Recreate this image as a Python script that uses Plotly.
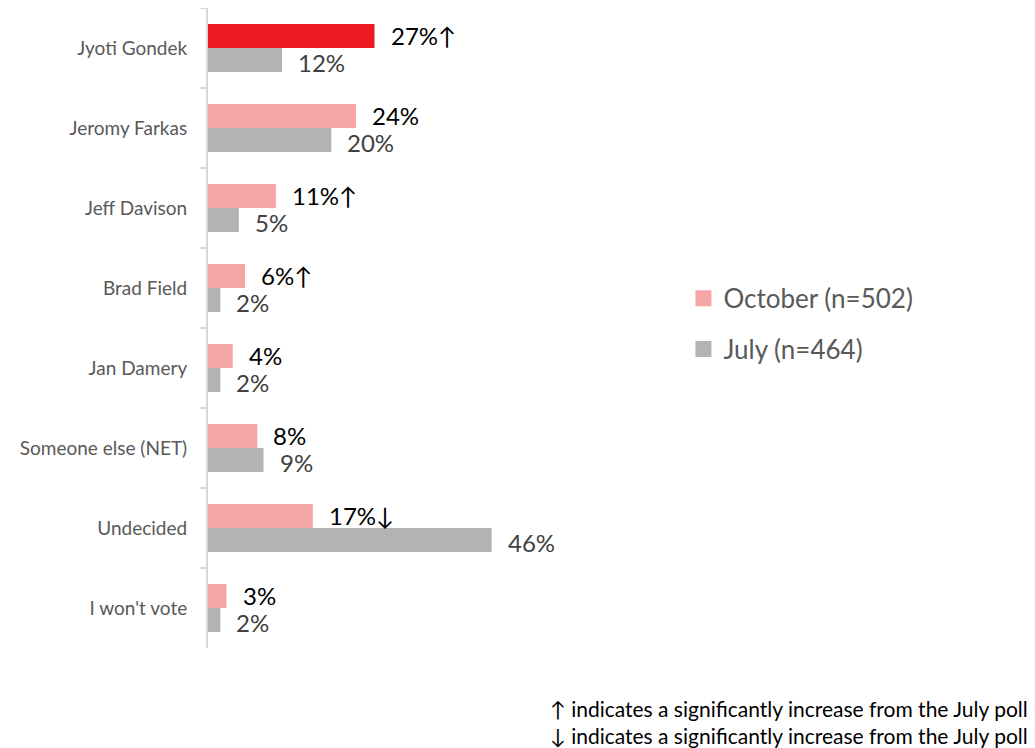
import plotly.graph_objects as go

categories = ["Jyoti Gondek", "Jeromy Farkas", "Jeff Davison", "Brad Field",
              "Jan Damery", "Someone else (NET)", "Undecided", "I won't vote"]
october = [27, 24, 11, 6, 4, 8, 17, 3]
july = [12, 20, 5, 2, 2, 9, 46, 2]
october_flags = ["↑", "", "↑", "↑", "", "", "↓", ""]
october_name = "October (n=502)"
july_name = "July (n=464)"
footnotes = ["↑ indicates a significantly increase from the July poll",
             "↓ indicates a significantly increase from the July poll"]

PINK = "#F6A5A7"
RED = "#ED1C24"
GRAY = "#B3B3B3"
FONT = "Lato, 'Open Sans', sans-serif"

oct_colors = [RED if i == 0 else PINK for i in range(len(categories))]

fig = go.Figure()
fig.add_trace(go.Bar(y=categories, x=october, orientation="h", name=october_name,
                     marker=dict(color=oct_colors, line=dict(width=0)),
                     showlegend=False, hoverinfo="skip"))
fig.add_trace(go.Bar(y=categories, x=july, orientation="h", name=july_name,
                     marker=dict(color=GRAY, line=dict(width=0)),
                     showlegend=False, hoverinfo="skip"))
# legend-only entries (not part of the bar grouping)
fig.add_trace(go.Scatter(y=[None], x=[None], mode="markers", name=october_name,
                         marker=dict(color=PINK, symbol="square", size=16),
                         legendgroup="oct", showlegend=True, hoverinfo="skip"))
fig.add_trace(go.Scatter(y=[None], x=[None], mode="markers", name=july_name,
                         marker=dict(color=GRAY, symbol="square", size=16),
                         legendgroup="jul", showlegend=True, hoverinfo="skip"))

annotations = []
for c, v, f in zip(categories, october, october_flags):
    annotations.append(dict(x=v, y=c, xref="x", yref="y", text=f"{v}%{f}",
                            showarrow=False, xanchor="left", yanchor="middle",
                            xshift=14, yshift=13,
                            font=dict(family=FONT, size=24, color="#000000")))
for c, v in zip(categories, july):
    annotations.append(dict(x=v, y=c, xref="x", yref="y", text=f"{v}%",
                            showarrow=False, xanchor="left", yanchor="middle",
                            xshift=14, yshift=-14,
                            font=dict(family=FONT, size=24, color="#404040")))
for i, t in enumerate(footnotes):
    annotations.append(dict(x=2.2216, y=[-0.094, -0.137][i], xref="paper", yref="paper",
                            text=t, showarrow=False, xanchor="right", yanchor="middle",
                            font=dict(family=FONT, size=21, color="#000000")))

fig.update_layout(
    width=1027, height=740,
    margin=dict(l=200, r=457, t=0, b=100),
    paper_bgcolor="white", plot_bgcolor="white",
    barmode="group", bargap=0.4, bargroupgap=0,
    showlegend=True,
    legend=dict(x=1.285, y=0.583, xanchor="left", yanchor="top",
                traceorder="grouped", tracegroupgap=14,
                font=dict(family=FONT, size=26, color="#595959"),
                bgcolor="rgba(0,0,0,0)", itemwidth=30),
    xaxis=dict(range=[0, 60], visible=False, fixedrange=True),
    yaxis=dict(autorange="reversed", showline=True, linecolor="#D9D9D9", linewidth=2,
               ticks="outside", tickson="boundaries", ticklen=6, tickcolor="#D9D9D9",
               tickwidth=2, ticklabelstandoff=15,
               tickfont=dict(family=FONT, size=19, color="#595959"),
               showgrid=False, zeroline=False),
    annotations=annotations,
)
fig.write_html("out.html")
